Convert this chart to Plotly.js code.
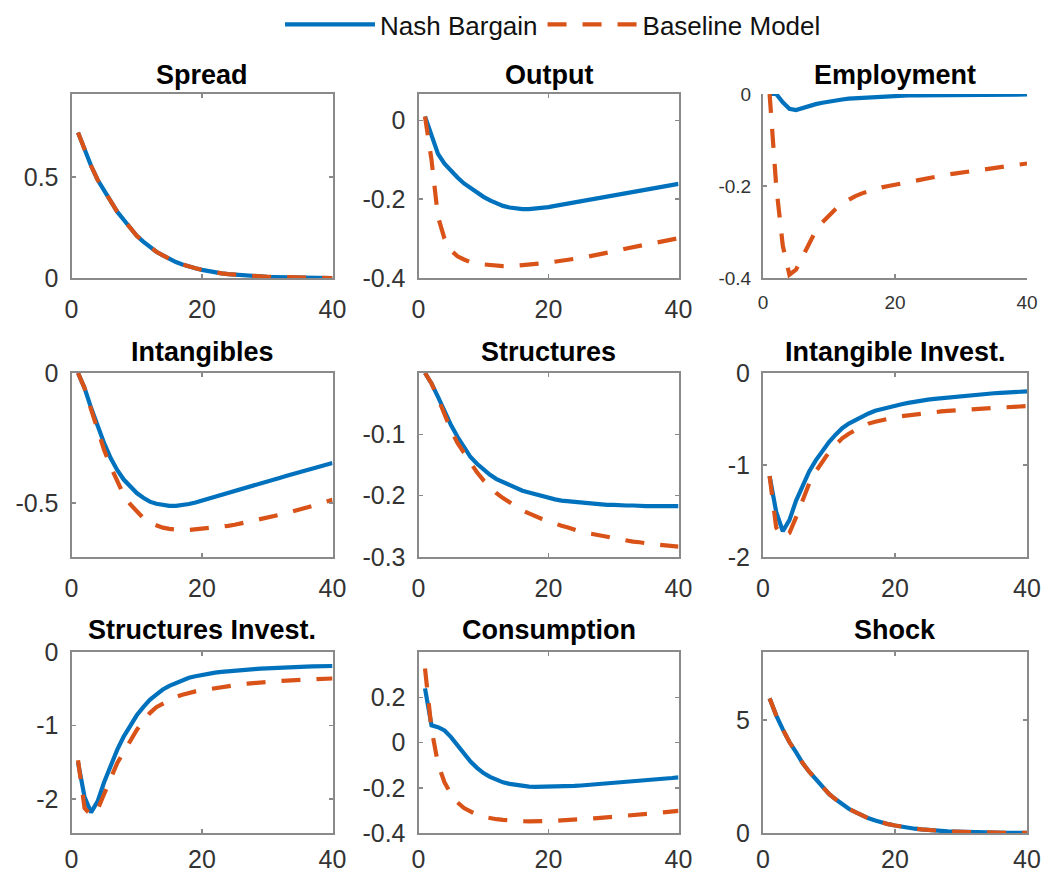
<!DOCTYPE html>
<html>
<head>
<meta charset="utf-8">
<script src="https://cdn.plot.ly/plotly-3.0.1.min.js"></script>
<style>
  html, body { margin: 0; padding: 0; background: #ffffff; }
  #chart { width: 1041px; height: 876px; }
</style>
</head>
<body>
<div id="chart"></div>
<script>
// ---------------- DATA ----------------
const periods = [1,2,3,4,5,6,7,8,9,10,11,12,13,14,15,16,17,18,19,20,21,22,23,24,25,26,27,28,29,30,31,32,33,34,35,36,37,38,39,40];
const seriesNames = ["Nash Bargain", "Baseline Model"];
const panelTitles = ["Spread","Output","Employment","Intangibles","Structures","Intangible Invest.","Structures Invest.","Consumption","Shock"];
const xTickValues = [0, 20, 40];

const spreadNash = [0.72,0.63,0.555,0.486,0.432,0.374,0.328,0.288,0.248,0.209,0.18,0.155,0.13,0.112,0.094,0.079,0.067,0.056,0.048,0.04,0.033,0.028,0.023,0.019,0.016,0.013,0.011,0.009,0.007,0.006,0.005,0.004,0.003,0.002,0.002,0.001,0.001,0.001,0.001,0.0];
const spreadBase = [0.72,0.63,0.555,0.486,0.432,0.374,0.328,0.288,0.248,0.209,0.18,0.155,0.13,0.112,0.094,0.079,0.067,0.056,0.048,0.04,0.033,0.028,0.023,0.019,0.016,0.013,0.011,0.009,0.007,0.006,0.005,0.004,0.003,0.002,0.002,0.001,0.001,0.001,0.001,0.0];

const outputNash = [0.01,-0.035,-0.085,-0.11,-0.128,-0.145,-0.16,-0.172,-0.184,-0.194,-0.203,-0.211,-0.217,-0.221,-0.224,-0.225,-0.225,-0.224,-0.222,-0.22,-0.217,-0.214,-0.211,-0.208,-0.205,-0.202,-0.199,-0.196,-0.193,-0.19,-0.187,-0.184,-0.181,-0.178,-0.175,-0.172,-0.169,-0.166,-0.163,-0.161];
const outputBase = [0.01,-0.1,-0.245,-0.3,-0.33,-0.345,-0.353,-0.36,-0.364,-0.366,-0.368,-0.369,-0.37,-0.37,-0.369,-0.368,-0.367,-0.365,-0.363,-0.361,-0.359,-0.357,-0.355,-0.352,-0.349,-0.346,-0.343,-0.339,-0.336,-0.332,-0.329,-0.325,-0.322,-0.318,-0.315,-0.312,-0.308,-0.305,-0.302,-0.299];

const employmentNash = [0,0,-0.018,-0.032,-0.035,-0.03,-0.026,-0.022,-0.019,-0.016,-0.014,-0.012,-0.01,-0.009,-0.008,-0.007,-0.006,-0.005,-0.005,-0.004,-0.004,-0.003,-0.003,-0.003,-0.003,-0.002,-0.002,-0.002,-0.002,-0.002,-0.002,-0.001,-0.001,-0.001,-0.001,-0.001,-0.001,-0.001,-0.001,-0.001];
const employmentBase = [0,-0.2,-0.33,-0.393,-0.382,-0.353,-0.323,-0.297,-0.279,-0.264,-0.25,-0.238,-0.229,-0.222,-0.216,-0.211,-0.207,-0.203,-0.2,-0.197,-0.194,-0.191,-0.188,-0.185,-0.182,-0.18,-0.178,-0.175,-0.173,-0.171,-0.169,-0.167,-0.165,-0.163,-0.161,-0.159,-0.157,-0.155,-0.153,-0.151];

const intangiblesNash = [0,-0.058,-0.134,-0.206,-0.27,-0.327,-0.373,-0.41,-0.438,-0.462,-0.48,-0.495,-0.503,-0.508,-0.511,-0.511,-0.509,-0.504,-0.498,-0.491,-0.484,-0.477,-0.47,-0.462,-0.455,-0.448,-0.44,-0.433,-0.425,-0.418,-0.41,-0.403,-0.395,-0.388,-0.38,-0.373,-0.366,-0.359,-0.352,-0.346];
const intangiblesBase = [0,-0.058,-0.14,-0.22,-0.296,-0.36,-0.417,-0.469,-0.505,-0.533,-0.558,-0.577,-0.588,-0.595,-0.6,-0.603,-0.604,-0.604,-0.602,-0.6,-0.597,-0.594,-0.591,-0.588,-0.584,-0.579,-0.574,-0.569,-0.564,-0.558,-0.552,-0.545,-0.539,-0.533,-0.526,-0.519,-0.511,-0.503,-0.496,-0.488];

const structuresNash = [0,-0.017,-0.039,-0.063,-0.085,-0.104,-0.121,-0.137,-0.148,-0.158,-0.166,-0.173,-0.178,-0.183,-0.188,-0.192,-0.195,-0.198,-0.201,-0.204,-0.206,-0.208,-0.209,-0.211,-0.212,-0.213,-0.214,-0.214,-0.215,-0.215,-0.216,-0.216,-0.216,-0.217,-0.217,-0.217,-0.217,-0.217,-0.217,-0.217];
const structuresBase = [0,-0.017,-0.041,-0.068,-0.093,-0.114,-0.131,-0.147,-0.162,-0.175,-0.186,-0.196,-0.204,-0.211,-0.218,-0.224,-0.229,-0.234,-0.238,-0.242,-0.246,-0.249,-0.252,-0.256,-0.259,-0.261,-0.263,-0.266,-0.268,-0.27,-0.272,-0.273,-0.275,-0.276,-0.278,-0.279,-0.28,-0.281,-0.282,-0.283];

const intInvestNash = [-1.12,-1.51,-1.72,-1.6,-1.39,-1.22,-1.07,-0.95,-0.84,-0.75,-0.67,-0.6,-0.55,-0.51,-0.47,-0.44,-0.41,-0.39,-0.37,-0.35,-0.34,-0.325,-0.31,-0.3,-0.29,-0.282,-0.274,-0.266,-0.258,-0.25,-0.244,-0.238,-0.232,-0.226,-0.22,-0.216,-0.212,-0.208,-0.204,-0.2];
const intInvestBase = [-1.12,-1.68,-1.78,-1.74,-1.57,-1.37,-1.2,-1.07,-0.96,-0.86,-0.78,-0.71,-0.66,-0.62,-0.58,-0.55,-0.53,-0.51,-0.495,-0.48,-0.47,-0.46,-0.45,-0.44,-0.43,-0.424,-0.418,-0.412,-0.406,-0.4,-0.396,-0.392,-0.388,-0.384,-0.38,-0.376,-0.372,-0.368,-0.364,-0.36];

const strInvestNash = [-1.5,-1.97,-2.18,-2.03,-1.77,-1.54,-1.33,-1.15,-1.0,-0.86,-0.75,-0.65,-0.58,-0.51,-0.46,-0.42,-0.38,-0.35,-0.33,-0.31,-0.295,-0.28,-0.27,-0.26,-0.25,-0.244,-0.238,-0.232,-0.226,-0.22,-0.216,-0.212,-0.208,-0.204,-0.2,-0.198,-0.196,-0.194,-0.192,-0.19];
const strInvestBase = [-1.47,-2.12,-2.22,-2.14,-1.93,-1.72,-1.51,-1.36,-1.2,-1.06,-0.94,-0.83,-0.75,-0.7,-0.65,-0.61,-0.58,-0.55,-0.535,-0.52,-0.505,-0.49,-0.475,-0.46,-0.45,-0.44,-0.43,-0.42,-0.41,-0.4,-0.396,-0.392,-0.388,-0.384,-0.38,-0.376,-0.372,-0.368,-0.364,-0.36];

const consumptionNash = [0.239,0.076,0.068,0.053,0.024,-0.013,-0.05,-0.084,-0.112,-0.135,-0.152,-0.166,-0.176,-0.183,-0.188,-0.192,-0.195,-0.196,-0.196,-0.196,-0.195,-0.194,-0.193,-0.192,-0.19,-0.188,-0.185,-0.182,-0.179,-0.176,-0.174,-0.172,-0.17,-0.168,-0.166,-0.164,-0.162,-0.159,-0.157,-0.154];
const consumptionBase = [0.327,0.06,-0.095,-0.176,-0.228,-0.265,-0.29,-0.307,-0.32,-0.329,-0.335,-0.339,-0.342,-0.345,-0.347,-0.348,-0.349,-0.349,-0.348,-0.347,-0.346,-0.344,-0.343,-0.341,-0.339,-0.337,-0.335,-0.333,-0.331,-0.329,-0.327,-0.325,-0.322,-0.32,-0.317,-0.314,-0.311,-0.308,-0.305,-0.302];

const shockNash = [5.95,5.2,4.58,4.02,3.57,3.09,2.71,2.38,2.05,1.73,1.49,1.28,1.07,0.92,0.77,0.65,0.55,0.46,0.39,0.33,0.27,0.23,0.19,0.16,0.13,0.11,0.09,0.07,0.06,0.048,0.039,0.03,0.024,0.018,0.015,0.012,0.009,0.006,0.006,0.005];
const shockBase = [5.95,5.2,4.58,4.02,3.57,3.09,2.71,2.38,2.05,1.73,1.49,1.28,1.07,0.92,0.77,0.65,0.55,0.46,0.39,0.33,0.27,0.23,0.19,0.16,0.13,0.11,0.09,0.07,0.06,0.048,0.039,0.03,0.024,0.018,0.015,0.012,0.009,0.006,0.006,0.005];

// ---------------- PANEL OPTIONS ----------------
const panels = [
  {nash: spreadNash, base: spreadBase, yr: [0, 0.91], tv: [0, 0.5], tt: ["0","0.5"]},
  {nash: outputNash, base: outputBase, yr: [-0.4, 0.067], tv: [-0.4,-0.2,0], tt: ["-0.4","-0.2","0"]},
  {nash: employmentNash, base: employmentBase, yr: [-0.4, 0], tv: [-0.4,-0.2,0], tt: ["-0.4","-0.2","0"], small: true, nobox: true},
  {nash: intangiblesNash, base: intangiblesBase, yr: [-0.708, 0], tv: [-0.5,0], tt: ["-0.5","0"]},
  {nash: structuresNash, base: structuresBase, yr: [-0.3, 0], tv: [-0.3,-0.2,-0.1], tt: ["-0.3","-0.2","-0.1"]},
  {nash: intInvestNash, base: intInvestBase, yr: [-2, 0], tv: [-2,-1,0], tt: ["-2","-1","0"]},
  {nash: strInvestNash, base: strInvestBase, yr: [-2.46, 0], tv: [-2,-1,0], tt: ["-2","-1","0"]},
  {nash: consumptionNash, base: consumptionBase, yr: [-0.4, 0.4], tv: [-0.4,-0.2,0,0.2], tt: ["-0.4","-0.2","0","0.2"]},
  {nash: shockNash, base: shockBase, yr: [0, 8], tv: [0,5], tt: ["0","5"]}
];

const W = 1041, H = 876;
const colPx = [[71.5, 332.5], [418.5, 678.5], [763, 1027]];
const rowPx = [[94, 278], [373, 557], [652, 833]];
const titleY = [75, 352, 630];
const xLabelGap = [8, 8, 3];

const BLUE = "#0072BD", ORANGE = "#D95319";
const AXIS = "#8a8a8a", TICKC = "#333333";
const FONT = "Liberation Sans, Arial, Helvetica, sans-serif";

const traces = [];
const layout = {
  width: W, height: H,
  margin: {l: 0, r: 0, t: 0, b: 0},
  paper_bgcolor: "#ffffff", plot_bgcolor: "#ffffff",
  font: {family: FONT, color: TICKC, size: 24},
  showlegend: true,
  legend: {
    orientation: "h", x: 553 / W, xanchor: "center", y: 1 - 1 / H, yanchor: "top",
    font: {family: FONT, size: 26, color: "#111"},
    itemwidth: 90, bgcolor: "rgba(0,0,0,0)", borderwidth: 0, tracegroupgap: 0,
    traceorder: "normal"
  },
  annotations: []
};

panels.forEach((p, i) => {
  const r = Math.floor(i / 3), c = i % 3;
  const ax = i === 0 ? "" : String(i + 1);
  const xa = "x" + ax, ya = "y" + ax;
  const tickSize = p.small ? 19 : 25;
  traces.push({
    x: periods, y: p.nash, xaxis: xa, yaxis: ya, type: "scatter", mode: "lines",
    name: seriesNames[0], showlegend: i === 0, legendgroup: "n",
    line: {color: BLUE, width: 4.2}, cliponaxis: false, hoverinfo: "skip"
  });
  traces.push({
    x: periods, y: p.base, xaxis: xa, yaxis: ya, type: "scatter", mode: "lines",
    name: seriesNames[1], showlegend: i === 0, legendgroup: "b",
    line: {color: ORANGE, width: 4.2, dash: "19px,16px"}, cliponaxis: false, hoverinfo: "skip"
  });
  const common = {
    showgrid: false, zeroline: false, showline: true, linecolor: AXIS, linewidth: 2,
    ticks: "inside", ticklen: 4, tickwidth: 1.5, tickcolor: AXIS,
    mirror: p.nobox ? false : "ticks", fixedrange: true,
    tickfont: {family: FONT, size: tickSize, color: TICKC}
  };
  layout["xaxis" + ax] = Object.assign({}, common, {
    domain: [colPx[c][0] / W, colPx[c][1] / W], anchor: ya,
    range: [0, 40], tickmode: "array", tickvals: xTickValues, ticktext: xTickValues.map(String),
    ticklabelstandoff: p.small ? 6 : xLabelGap[r]
  });
  layout["yaxis" + ax] = Object.assign({}, common, {
    domain: [1 - rowPx[r][1] / H, 1 - rowPx[r][0] / H], anchor: xa,
    range: p.yr, tickmode: "array", tickvals: p.tv, ticktext: p.tt,
    ticklabelstandoff: 6
  });
  layout.annotations.push({
    xref: "paper", yref: "paper", x: (colPx[c][0] + colPx[c][1]) / 2 / W, y: 1 - titleY[r] / H,
    xanchor: "center", yanchor: "middle", showarrow: false,
    text: "<b>" + panelTitles[i] + "</b>",
    font: {family: FONT, size: 27, color: "#000"}
  });
});

Plotly.newPlot("chart", traces, layout, {displayModeBar: false, staticPlot: true});
</script>
</body>
</html>
